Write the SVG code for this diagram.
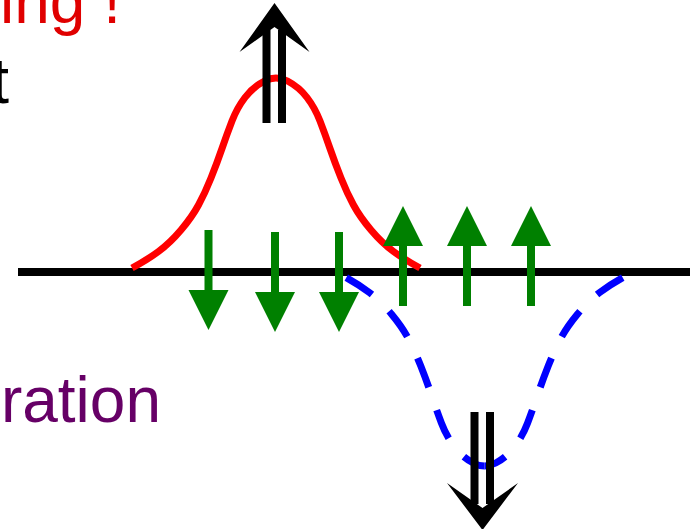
<svg xmlns="http://www.w3.org/2000/svg" width="697" height="529" viewBox="0 0 697 529">
  <style>
    .lbl { font-family: "Liberation Sans", Arial, sans-serif; font-size: 64px; }
    .axis { stroke: #000; stroke-width: 8; fill: none; }
    .red { stroke: #FF0000; stroke-width: 7; fill: none; stroke-linecap: butt; stroke-linejoin: round; }
    .blue { stroke: #0000FF; stroke-width: 7; fill: none; stroke-dasharray: 31 24; stroke-dashoffset: 8; stroke-linecap: butt; }
    .green { fill: #008000; }
    .blk { fill: #000; }
  </style>
  <defs>
    <g id="gdown"><rect x="-4" y="0" width="8" height="62"/><polygon points="-20,60 20,60 0,100"/></g>
    <g id="gup"><polygon points="0,0 20,40 -20,40"/><rect x="-4" y="38" width="8" height="62"/></g>
  </defs>

  <g id="axis">
    <line class="axis" x1="18" y1="272" x2="690" y2="272"/>
  </g>

  <g id="red-curve">
    <path class="red" d="M 132,268 Q 147,260 158.5,251.5 Q 170,243 181,230 Q 192,217 198.5,205 Q 205,193 211,178 Q 217,163 222,148.5 Q 227,134 232,121 Q 237,108 245,97.5 Q 253,87 264.5,81 Q 276,75 287.5,81 Q 299,87 307,97.5 Q 315,108 320,121 Q 325,134 330,148.5 Q 335,163 341,178 Q 347,193 353.5,205 Q 360,217 371,230 Q 382,243 393.5,251.5 Q 405,260 420,268"/>
  </g>

  <g id="blue-curve">
    <path class="blue" d="M 484.5,466 Q 478.875,466 473.25,463 Q 462,457 454.15,446.5 Q 446.3,436 441.4,423 Q 436.5,410 431.6,395.5 Q 426.7,381 420.8,366 Q 414.9,351 408.55,339 Q 402.2,327 391.4,314 Q 380.6,301 369.35,292.5 Q 358.1,284 343.4,276"/>
    <path class="blue" d="M 484.5,466 Q 490.125,466 495.75,463 Q 507,457 514.85,446.5 Q 522.7,436 527.6,423 Q 532.5,410 537.4,395.5 Q 542.3,381 548.2,366 Q 554.1,351 560.45,339 Q 566.8,327 577.6,314 Q 588.4,301 599.65,292.5 Q 610.9,284 625.6,276"/>
  </g>

  <g id="spin-down-1" class="green"><use href="#gdown" transform="translate(208.5,230)"/></g>
  <g id="spin-down-2" class="green"><use href="#gdown" transform="translate(275,232)"/></g>
  <g id="spin-down-3" class="green"><use href="#gdown" transform="translate(339,232)"/></g>
  <g id="spin-up-1" class="green"><use href="#gup" transform="translate(403,206)"/></g>
  <g id="spin-up-2" class="green"><use href="#gup" transform="translate(467,206)"/></g>
  <g id="spin-up-3" class="green"><use href="#gup" transform="translate(531,206)"/></g>

  <g id="double-arrow-up" class="blk">
    <rect x="262.5" y="30" width="8" height="93"/>
    <rect x="278" y="30" width="8" height="93"/>
    <polygon points="274.5,3 309.5,52 274.5,27 239.5,52"/>
  </g>

  <g id="double-arrow-down" class="blk">
    <rect x="470.5" y="412" width="8" height="92"/>
    <rect x="486" y="412" width="8" height="92"/>
    <polygon points="482.5,530 447,483 482.5,508 518,483"/>
  </g>

  <g id="labels">
    <text class="lbl" x="121" y="23" text-anchor="end" fill="#E00000">ing !</text>
    <text class="lbl" x="9" y="103" text-anchor="end" fill="#000">t</text>
    <text class="lbl" x="161" y="422" text-anchor="end" fill="#660066">ration</text>
  </g>
</svg>
